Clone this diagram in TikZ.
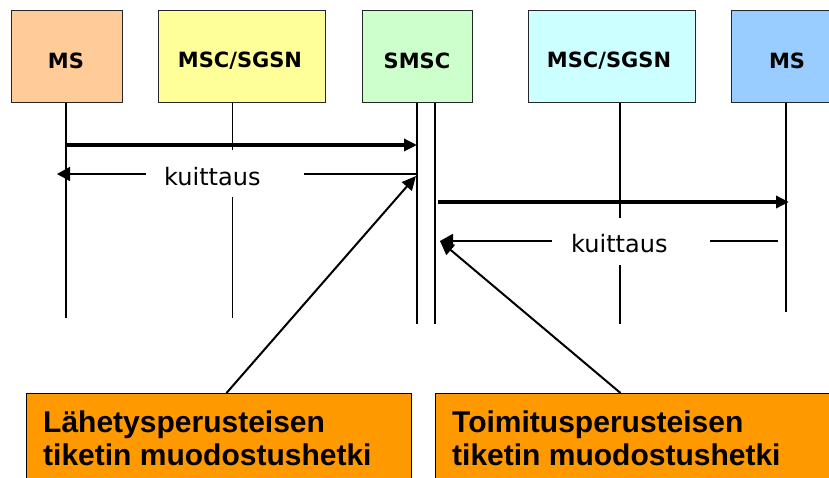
\documentclass[tikz,border=0pt]{standalone}
\usepackage{fontspec}
\usetikzlibrary{arrows.meta}
\newfontfamily\vfont{DejaVu Sans}
\newfontfamily\afont{Liberation Sans}
\definecolor{cmsa}{HTML}{FFCC99}
\definecolor{cmsca}{HTML}{FFFF99}
\definecolor{csmsc}{HTML}{CCFFCC}
\definecolor{cmscb}{HTML}{CCFFFF}
\definecolor{cmsb}{HTML}{99CCFF}
\definecolor{corange}{HTML}{FF9900}
\begin{document}
\begin{tikzpicture}[x=1pt,y=-1pt,
  topbox/.style={draw=black!85, line width=1.3pt, minimum height=92pt, inner sep=0pt, anchor=north west},
  toplabel/.style={font=\vfont\bfseries\fontsize{21}{24}\selectfont, inner sep=0pt},
  life/.style={line width=1.4pt, black},
  bigarrow/.style={line width=3.6pt, -{Triangle[length=13pt,width=12pt]}},
  ackarrow/.style={line width=1.6pt, -{Triangle[length=13pt,width=14pt]}},
  ackbox/.style={fill=white, minimum width=158pt, minimum height=47pt, inner sep=0pt},
  acktext/.style={font=\vfont\fontsize{24}{28}\selectfont, inner sep=0pt, anchor=base west},
  diag/.style={line width=2pt, -{Triangle[length=14pt,width=13pt]}},
  botbox/.style={draw=black, line width=1pt, fill=corange, minimum height=100pt, inner sep=0pt, anchor=north west},
  bottext/.style={font=\afont\bfseries\fontsize{30}{33}\selectfont, inner sep=0pt, anchor=base west}
]
\clip (0,0) rectangle (829,478);
\fill[white] (0,0) rectangle (829,478);

% top boxes
\node[topbox, fill=cmsa, minimum width=111pt] (ms1) at (11,10) {};
\node[topbox, fill=cmsca, minimum width=167pt] (msc1) at (158,10) {};
\node[topbox, fill=csmsc, minimum width=110pt] (smsc) at (362,10) {};
\node[topbox, fill=cmscb, minimum width=167pt] (msc2) at (527.5,10) {};
\node[topbox, fill=cmsb, minimum width=111pt] (ms2) at (731,10) {};

\node[toplabel] (t1) at (66,60.5) {MS};
\node[toplabel] (t2) at (240,60.5) {MSC/SGSN};
\node[toplabel] (t3) at (417,60.5) {SMSC};
\node[toplabel] (t4) at (609,60.5) {MSC/SGSN};
\node[toplabel] (t5) at (787,60.5) {MS};

% lifelines
\coordinate (l1) at (66,318);
\coordinate (l2) at (232.3,318);
\coordinate (l3a) at (417,323.5);
\coordinate (l3b) at (435,323.5);
\coordinate (l4) at (620,323.5);
\coordinate (l5) at (786,312);
\draw[life] (ms1.south -| l1) -- (l1);
\draw[life] (msc1.south -| l2) -- (l2);
\draw[life] (smsc.south -| l3a) -- (l3a);
\draw[life] (smsc.south -| l3b) -- (l3b);
\draw[life] (msc2.south -| l4) -- (l4);
\draw[life] (ms2.south -| l5) -- (l5);

% messages
\coordinate (m1s) at (66,145);
\coordinate (m1e) at (417,145);
\draw[bigarrow] (m1s) -- (m1e);

\coordinate (k1s) at (417,174);
\coordinate (k1e) at (57,174);
\draw[ackarrow] (k1s) -- (k1e);
\node[ackbox] (k1box) at (225,173.5) {};
\node[acktext] (k1txt) at (164,186) {kuittaus};

\coordinate (m2s) at (438,202);
\coordinate (m2e) at (789,202);
\draw[bigarrow] (m2s) -- (m2e);

\coordinate (k2s) at (778,241);
\coordinate (k2e) at (440,241);
\draw[ackarrow] (k2s) -- (k2e);
\node[ackbox] (k2box) at (631,241.5) {};
\node[acktext] (k2txt) at (571,252) {kuittaus};

% bottom boxes
\node[botbox, minimum width=385pt] (b1) at (26,393) {};
\node[botbox, minimum width=400pt] (b2) at (435,393) {};
\node[bottext] (b1a) at (43,432) {Lähetysperusteisen};
\node[bottext] (b1b) at (43,465.5) {tiketin muodostushetki};
\node[bottext] (b2a) at (452,432) {Toimitusperusteisen};
\node[bottext] (b2b) at (452,465.5) {tiketin muodostushetki};

% pointers
\coordinate (d1e) at (416,176);
\coordinate (d2e) at (440,241);
\draw[diag] ([xshift=7.5pt]b1.north) -- (d1e);
\draw[diag] ([xshift=-15pt]b2.north) -- (d2e);
\end{tikzpicture}
\end{document}
